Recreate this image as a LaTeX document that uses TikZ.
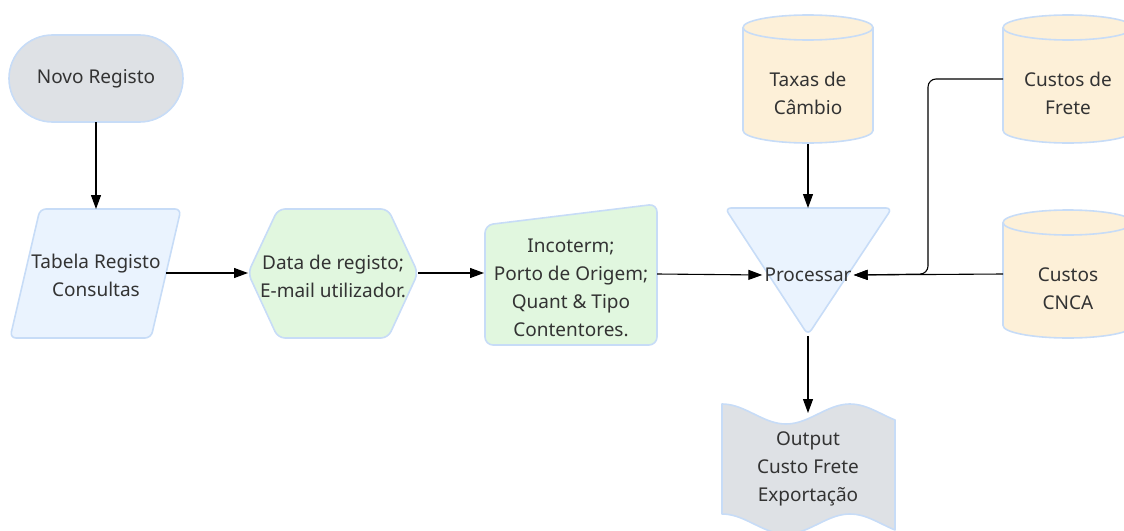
\documentclass[tikz,border=0pt]{standalone}
\usepackage{fontspec}
\setmainfont{Noto Sans}
\usetikzlibrary{arrows.meta}

\definecolor{edge}{HTML}{C7DCF7}
\definecolor{grayfill}{HTML}{DEE1E5}
\definecolor{bluefill}{HTML}{EAF3FE}
\definecolor{greenfill}{HTML}{E1F7DF}
\definecolor{dbfill}{HTML}{FDF0D8}
\definecolor{ink}{HTML}{333333}

% database cylinder: centre x, top y, bottom y (y grows downwards)
\newcommand\dbshape[3]{%
  \draw[shapeline, fill=dbfill]
    ({#1-65},{#2+12.5}) -- ({#1-65},{#3-12.5})
    .. controls ({#1-65},{#3-5.6}) and ({#1-35.9},{#3}) .. ({#1},{#3})
    .. controls ({#1+35.9},{#3}) and ({#1+65},{#3-5.6}) .. ({#1+65},{#3-12.5})
    -- ({#1+65},{#2+12.5})
    .. controls ({#1+65},{#2+5.6}) and ({#1+35.9},{#2}) .. ({#1},{#2})
    .. controls ({#1-35.9},{#2}) and ({#1-65},{#2+5.6}) .. ({#1-65},{#2+12.5})
    -- cycle;
  \draw[shapeline]
    ({#1-65},{#2+12.5})
    .. controls ({#1-65},{#2+19.4}) and ({#1-35.9},{#2+25}) .. ({#1},{#2+25})
    .. controls ({#1+35.9},{#2+25}) and ({#1+65},{#2+19.4}) .. ({#1+65},{#2+12.5});
}

\begin{document}
\begin{tikzpicture}[x=1pt, y=-1pt,
  shapeline/.style={draw=edge, line width=1.6pt, line join=round},
  label/.style={text=ink, font=\fontsize{19}{28}\selectfont, align=center, inner sep=0pt},
  flow/.style={draw=black, line width=1.1pt, -{Triangle[length=14pt, width=10pt]}},
]
\useasboundingbox (0,0) rectangle (1124,530);
\begin{scope}
\clip (0,0) rectangle (1124,530);

% start terminal
\draw[shapeline, fill=grayfill, rounded corners=43.5pt] (9,35) rectangle (183,122);
\node[label] (start) at (96,79) {Novo Registo};

% input table
\draw[shapeline, fill=bluefill, rounded corners=6pt]
  (40,209) -- (181,209) -- (151,338) -- (10,338) -- cycle;
\node[label] (tabela) at (96,275) {Tabela Registo\\Consultas};

% preparation hexagon
\draw[shapeline, fill=greenfill, rounded corners=7pt]
  (248,273) -- (278,209) -- (388,209) -- (418,273) -- (388,338) -- (278,338) -- cycle;
\node[label] (dados) at (333,276) {Data de registo;\\E-mail utilizador.};

% manual input
\draw[shapeline, fill=greenfill, rounded corners=8pt]
  (485,225) -- (657,204) -- (657,345) -- (485,345) -- cycle;
\node[label] (incot) at (571,288) {Incoterm;\\Porto de Origem;\\Quant \& Tipo\\Contentores.};

% merge triangle
\draw[shapeline, fill=bluefill, rounded corners=6pt]
  (725,208) -- (892,208) -- (808,335) -- cycle;
\node[label, inner xsep=2pt] (proc) at (808,275) {Processar};

% data stores
\dbshape{808}{15}{143}
\node[label] (taxas) at (808,93) {Taxas de\\Câmbio};
\dbshape{1068}{15}{143}
\node[label] (frete) at (1068,93) {Custos de\\Frete};
\dbshape{1068}{210}{338}
\node[label] (cnca) at (1068,289) {Custos\\CNCA};

% output document with wavy top and bottom edges
\draw[shapeline, fill=grayfill]
  plot[domain=0:173, samples=50] ({722+\x}, {414-10*cos(2.8125*\x)})
  -- plot[domain=173:0, samples=50] ({722+\x}, {524-10*cos(2.8125*\x)})
  -- cycle;
\node[label] (out) at (808,469) {Output\\Custo Frete\\Exportação};

% connector end points on the shape outlines
\coordinate (startB) at (96,122);
\coordinate (tabT) at (96,209);
\coordinate (tabR) at (166,273);
\coordinate (dadL) at (248,273);
\coordinate (dadR) at (418,273);
\coordinate (incL) at (484,273);
\coordinate (incR) at (657,274);
\coordinate (taxB) at (808,144);
\coordinate (procT) at (808,208);
\coordinate (procB) at (808,336);
\coordinate (outT) at (808,413);
\coordinate (freteL) at (1003,79);
\coordinate (cncaL) at (1003,274);
\coordinate (bend) at (928,274);

% connectors
\draw[flow] (startB) -- (tabT);
\draw[flow] (tabR) -- (dadL);
\draw[flow] (dadR) -- (incL);
\draw[flow] (incR) -- (proc.west);
\draw[flow] (taxB) -- (procT);
\draw[flow, rounded corners=8pt] (freteL) -| (bend) -- (proc.east);
\draw[flow] (cncaL) -- (proc.east);
\draw[flow] (procB) -- (outT);
\end{scope}
\end{tikzpicture}
\end{document}
